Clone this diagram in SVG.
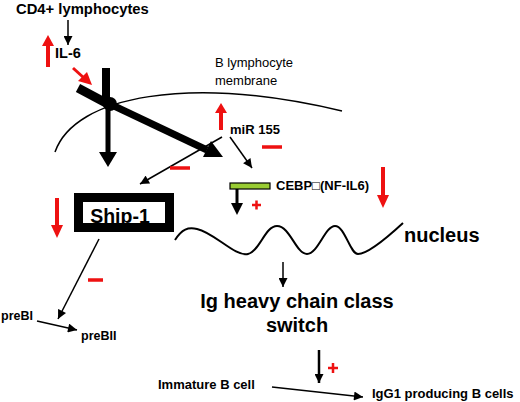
<svg xmlns="http://www.w3.org/2000/svg" width="520" height="402" viewBox="0 0 520 402">
<defs>
<style>
text{font-family:"Liberation Sans",Arial,sans-serif;fill:#000}
.b{font-weight:bold}
.thin{stroke:#000;stroke-width:1.5;fill:none}
.red{fill:#ee1111}
.redl{stroke:#ee1111;stroke-width:3.5;fill:none}
</style>
<marker id="ah2" viewBox="0 0 10 10" refX="10" refY="5" markerWidth="10" markerHeight="9" orient="auto" markerUnits="userSpaceOnUse">
<path d="M0,0 L10,5 L0,10 z" fill="#000"/>
</marker>
</defs>
<rect width="520" height="402" fill="#fff"/>

<g id="membrane">
<path d="M55,152 C75,95 190,75 342,111" class="thin"/>
<text x="215" y="67" font-size="13">B lymphocyte</text>
<text x="215" y="85" font-size="13">membrane</text>
</g>

<g id="cd4">
<text x="16" y="14" font-size="14.8" class="b">CD4+ lymphocytes</text>
</g>

<g id="il6">
<text x="55" y="58" font-size="14.5" class="b">IL-6</text>
<path d="M48,67 V45" stroke="#ee1111" stroke-width="4"/>
<polygon class="red" points="42,46 54,46 48,35"/>
</g>

<g id="receptor">
<line x1="106" y1="68" x2="106" y2="106" stroke="#000" stroke-width="8"/>
<line x1="78" y1="88" x2="108" y2="104" stroke="#000" stroke-width="9"/>
<circle cx="110" cy="104" r="7" fill="#000"/>
<line x1="108" y1="105" x2="108" y2="153" stroke="#000" stroke-width="5"/>
<polygon points="99,152 117,152 108,167" fill="#000"/>
<line x1="112" y1="105" x2="207" y2="150" stroke="#000" stroke-width="7"/>
<polygon points="203,157 211,141 223,157" fill="#000"/>
<line x1="73" y1="68" x2="84" y2="78" stroke="#ee1111" stroke-width="3"/>
<polygon class="red" points="78,81 87,72 92,85"/>
</g>

<g id="mir155">
<path d="M221,130 V112" stroke="#ee1111" stroke-width="4"/>
<polygon class="red" points="215,113 227,113 221,103"/>
<text x="230" y="134" font-size="13" class="b">miR 155</text>
<line x1="262" y1="147" x2="282" y2="147" class="redl"/>
</g>

<g id="cebp">
<rect x="230" y="183" width="40" height="6" fill="#99cc33" stroke="#000" stroke-width="1.2"/>
<text x="276" y="190" font-size="13" class="b">CEBP□(NF-IL6)</text>
<line x1="237" y1="189" x2="237" y2="204" stroke="#000" stroke-width="3"/>
<polygon points="231,203 243,203 237,215" fill="#000"/>
<path d="M252,205 h9 M256.5,200.5 v9" stroke="#ee1111" stroke-width="2.5"/>
<path d="M383,167 V196" stroke="#ee1111" stroke-width="4"/>
<polygon class="red" points="377,195 389,195 383,208"/>
</g>

<g id="ship1">
<rect x="78.5" y="197.5" width="91" height="30" fill="#fff"/>
<text x="120" y="223" font-size="19.5" class="b" text-anchor="middle">Ship-1</text>
<rect x="78.5" y="197.5" width="91" height="30" fill="none" stroke="#000" stroke-width="9"/>
<path d="M57,198 V226" stroke="#ee1111" stroke-width="4"/>
<polygon class="red" points="51,225 63,225 57,238"/>
</g>

<g id="nucleus">
<path d="M175,240 C182,229 188,227 197,229 C215,233 235,257 248,254 C260,251 265,226 277,226 C290,226 296,254 307,254 C318,254 325,226 335,226 C345,226 350,254 358,254 C368,254 390,235 403,223" stroke="#000" stroke-width="2" fill="none"/>
<text x="404" y="242" font-size="20" class="b">nucleus</text>
</g>

<g id="classswitch">
<text x="297" y="308" font-size="20" class="b" text-anchor="middle">Ig heavy chain class</text>
<text x="297" y="332" font-size="20" class="b" text-anchor="middle">switch</text>
</g>

<g id="prebi"><text x="1" y="320" font-size="12.5" class="b">preBI</text></g>
<g id="prebii"><text x="81" y="340" font-size="12.5" class="b">preBII</text></g>
<g id="immature"><text x="158" y="389" font-size="13" class="b">Immature B cell</text></g>
<g id="igg1"><text x="372" y="398" font-size="13" class="b">IgG1 producing B cells</text></g>

<g id="connectors">
<line x1="68" y1="20" x2="68" y2="45" class="thin" marker-end="url(#ah2)"/>
<line x1="222" y1="137" x2="140" y2="184" class="thin" marker-end="url(#ah2)"/>
<line x1="230" y1="137" x2="252" y2="168" class="thin" marker-end="url(#ah2)"/>
<line x1="283" y1="262" x2="283" y2="287" class="thin" marker-end="url(#ah2)"/>
<line x1="319" y1="350" x2="319" y2="383" stroke="#000" stroke-width="2.5" marker-end="url(#ah2)"/>
<line x1="272" y1="387" x2="363" y2="397" class="thin" marker-end="url(#ah2)"/>
<line x1="99" y1="239" x2="58" y2="319" class="thin" marker-end="url(#ah2)"/>
<line x1="37" y1="321" x2="77" y2="330" class="thin" marker-end="url(#ah2)"/>
<line x1="170" y1="168" x2="190" y2="168" class="redl"/>
<line x1="88" y1="280" x2="103" y2="280" class="redl"/>
<path d="M328,368 h10 M333,363 v10" stroke="#ee1111" stroke-width="2.5"/>
</g>
</svg>
